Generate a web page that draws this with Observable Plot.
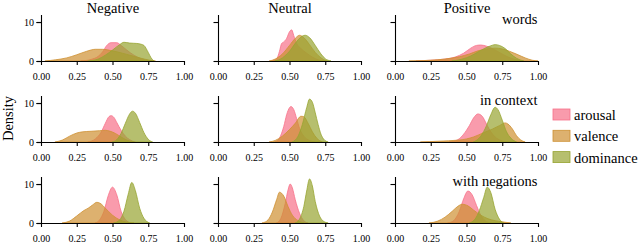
<!DOCTYPE html>
<html><head><meta charset="utf-8">
<script src="https://cdn.jsdelivr.net/npm/d3@7"></script>
<script src="https://cdn.jsdelivr.net/npm/@observablehq/plot@0.6"></script>
<style>
body{margin:0;background:#fff}
#chart{width:640px;height:243px}
#chart svg, #chart svg text{font-family:'Liberation Serif','Times New Roman',serif !important}
</style>
</head><body><div id="chart"></div>
<script>
const sentiments = ["Negative", "Neutral", "Positive"];
const contexts = ["words", "in context", "with negations"];
const dimensions = ["arousal", "valence", "dominance"];
const colors = ["#f77189", "#ce9032", "#97a431"];
const xTicks = [0, 0.25, 0.5, 0.75, 1];
const xTickLabels = ["0.00", "0.25", "0.50", "0.75", "1.00"];
const yTicks = [0, 10];
const yLabel = "Density";

// Density curves: [x, density]
const negWordsArousal = [[0.28,0],[0.35,0.4],[0.40,1.2],[0.43,2.3],[0.46,4.0],[0.49,4.7],[0.53,4.7],[0.56,4.0],[0.60,2.8],[0.65,1.5],[0.70,0.6],[0.76,0]];
const negWordsValence = [[0.03,0],[0.10,0.3],[0.18,0.8],[0.25,1.6],[0.32,2.5],[0.38,3.0],[0.43,3.0],[0.50,2.6],[0.57,2.0],[0.63,1.4],[0.70,0.7],[0.76,0.2],[0.80,0]];
const negWordsDominance = [[0.33,0],[0.40,0.5],[0.45,1.5],[0.50,2.8],[0.55,4.2],[0.58,4.8],[0.62,4.6],[0.67,4.5],[0.70,4.3],[0.72,4.0],[0.75,2.2],[0.77,0.8],[0.79,0]];

const neuWordsArousal = [[0.38,0],[0.41,0.5],[0.43,2.5],[0.445,4.5],[0.46,4.9],[0.48,5.8],[0.50,7.5],[0.515,8.0],[0.53,6.5],[0.55,4.5],[0.58,3.2],[0.62,2.0],[0.66,1.0],[0.70,0.3],[0.74,0]];
const neuWordsValence = [[0.36,0],[0.40,0.5],[0.45,1.8],[0.50,4.0],[0.54,5.8],[0.57,6.6],[0.60,6.0],[0.64,4.2],[0.68,2.2],[0.72,0.8],[0.76,0]];
const neuWordsDominance = [[0.40,0],[0.45,0.8],[0.50,2.5],[0.55,5.0],[0.59,6.4],[0.61,6.6],[0.64,6.0],[0.68,4.0],[0.72,1.8],[0.75,0.6],[0.79,0]];

const posWordsArousal = [[0.15,0],[0.25,0.2],[0.35,0.5],[0.42,1.0],[0.48,2.0],[0.53,3.3],[0.57,4.0],[0.60,4.1],[0.64,3.8],[0.68,3.2],[0.73,2.2],[0.78,1.2],[0.84,0.4],[0.90,0]];
const posWordsValence = [[0.10,0],[0.25,0.2],[0.35,0.5],[0.45,1.1],[0.52,1.8],[0.58,2.6],[0.64,3.1],[0.70,3.3],[0.75,3.1],[0.80,2.5],[0.86,1.6],[0.91,0.8],[0.96,0.2],[1.0,0]];
const posWordsDominance = [[0.40,0],[0.47,0.5],[0.53,1.3],[0.58,2.3],[0.63,3.3],[0.67,3.9],[0.70,4.2],[0.73,4.0],[0.77,3.2],[0.81,1.8],[0.85,0.7],[0.90,0]];

const negContextArousal = [[0.33,0],[0.38,0.8],[0.42,2.5],[0.45,4.8],[0.475,6.5],[0.49,6.75],[0.51,6.3],[0.53,5.0],[0.56,3.0],[0.59,1.5],[0.62,0.6],[0.66,0]];
const negContextValence = [[0.10,0],[0.15,0.5],[0.20,1.5],[0.25,2.3],[0.29,2.6],[0.35,2.75],[0.41,2.9],[0.45,3.0],[0.48,2.8],[0.52,2.2],[0.56,1.3],[0.60,0.5],[0.65,0]];
const negContextDominance = [[0.50,0],[0.53,0.6],[0.56,2.2],[0.59,4.8],[0.62,7.2],[0.64,7.9],[0.66,7.4],[0.69,5.0],[0.72,2.4],[0.75,0.7],[0.78,0]];

const neuContextArousal = [[0.40,0],[0.43,1.0],[0.46,4.0],[0.48,7.0],[0.50,8.8],[0.51,9.1],[0.53,8.3],[0.55,6.0],[0.57,3.5],[0.60,1.5],[0.64,0.4],[0.68,0]];
const neuContextValence = [[0.36,0],[0.40,0.4],[0.45,1.5],[0.50,3.2],[0.54,4.8],[0.58,6.6],[0.60,6.5],[0.63,4.8],[0.66,2.6],[0.69,1.0],[0.73,0]];
const neuContextDominance = [[0.52,0],[0.56,1.5],[0.59,4.5],[0.62,8.8],[0.64,11.0],[0.66,10.2],[0.68,7.5],[0.70,4.5],[0.72,2.0],[0.74,0.7],[0.77,0]];

const posContextArousal = [[0.38,0],[0.44,0.6],[0.48,2.0],[0.52,4.2],[0.55,6.2],[0.58,7.2],[0.61,6.6],[0.64,4.6],[0.67,2.6],[0.70,1.3],[0.74,0.4],[0.78,0]];
const posContextValence = [[0.18,0],[0.30,0.2],[0.45,0.5],[0.55,1.3],[0.62,2.4],[0.68,3.3],[0.73,4.2],[0.77,4.9],[0.79,4.6],[0.82,3.4],[0.85,1.6],[0.88,0.5],[0.91,0]];
const posContextDominance = [[0.55,0],[0.60,1.5],[0.64,4.2],[0.67,7.0],[0.70,8.9],[0.72,8.3],[0.75,5.6],[0.78,2.6],[0.81,1.0],[0.85,0]];

const negNegArousal = [[0.38,0],[0.41,0.8],[0.44,3.0],[0.47,7.0],[0.50,9.2],[0.53,7.2],[0.56,3.0],[0.59,0.9],[0.63,0]];
const negNegValence = [[0.15,0],[0.20,0.5],[0.25,1.8],[0.30,3.2],[0.33,3.8],[0.36,4.6],[0.39,5.3],[0.42,4.9],[0.45,3.8],[0.50,2.0],[0.55,0.8],[0.60,0.2],[0.65,0]];
const negNegDominance = [[0.51,0],[0.55,0.8],[0.58,3.0],[0.61,7.4],[0.635,10.4],[0.66,8.3],[0.69,3.8],[0.72,1.2],[0.76,0]];

const neuNegArousal = [[0.41,0],[0.44,1.2],[0.47,5.0],[0.49,8.5],[0.505,10.0],[0.52,9.0],[0.54,6.0],[0.57,2.5],[0.60,0.6],[0.63,0]];
const neuNegValence = [[0.31,0],[0.35,0.8],[0.38,2.8],[0.41,6.0],[0.43,7.9],[0.46,6.9],[0.49,4.2],[0.52,2.0],[0.56,0.6],[0.60,0]];
const neuNegDominance = [[0.54,0],[0.57,1.0],[0.60,4.2],[0.62,8.2],[0.64,11.3],[0.66,9.5],[0.68,5.5],[0.71,1.8],[0.74,0.4],[0.77,0]];

const posNegArousal = [[0.37,0],[0.41,0.6],[0.45,3.0],[0.48,6.2],[0.51,8.2],[0.54,7.2],[0.57,4.5],[0.60,2.0],[0.63,0.6],[0.67,0]];
const posNegValence = [[0.24,0],[0.30,0.5],[0.35,1.5],[0.40,3.0],[0.44,4.3],[0.47,4.8],[0.51,4.4],[0.55,3.3],[0.60,2.0],[0.65,1.1],[0.70,0.6],[0.75,0.3],[0.81,0]];
const posNegDominance = [[0.52,0],[0.56,1.0],[0.59,3.2],[0.62,6.5],[0.645,9.2],[0.67,7.8],[0.70,3.5],[0.73,1.0],[0.76,0]];

const curves = [
  ["Negative","words",[negWordsArousal,negWordsValence,negWordsDominance]],
  ["Neutral","words",[neuWordsArousal,neuWordsValence,neuWordsDominance]],
  ["Positive","words",[posWordsArousal,posWordsValence,posWordsDominance]],
  ["Negative","in context",[negContextArousal,negContextValence,negContextDominance]],
  ["Neutral","in context",[neuContextArousal,neuContextValence,neuContextDominance]],
  ["Positive","in context",[posContextArousal,posContextValence,posContextDominance]],
  ["Negative","with negations",[negNegArousal,negNegValence,negNegDominance]],
  ["Neutral","with negations",[neuNegArousal,neuNegValence,neuNegDominance]],
  ["Positive","with negations",[posNegArousal,posNegValence,posNegDominance]]
];

const rows = [];
for (const [s, c, series] of curves) {
  series.forEach((pts, i) => {
    for (const [x, y] of pts) rows.push({sentiment: s, context: c, dimension: dimensions[i], x, y});
  });
}

const font = "'Liberation Serif', 'Times New Roman', serif";
const plot = Plot.plot({
  width: 640, height: 243,
  marginLeft: 40, marginRight: 101, marginTop: 15, marginBottom: 19,
  style: {fontFamily: font, fontSize: "10px", background: "white", color: "black"},
  x: {domain: [0, 1]},
  y: {domain: [0, 11.8]},
  fx: {domain: sentiments, paddingInner: 0.19, paddingOuter: 0, axis: null},
  fy: {domain: contexts, paddingInner: 0.428, paddingOuter: 0, axis: null},
  color: {domain: dimensions, range: colors},
  marks: [
    Plot.areaY(rows, {x: "x", y1: 0, y2: "y", z: "dimension", fill: "dimension", fillOpacity: 0.7,
      stroke: "dimension", strokeWidth: 0.8, fx: "sentiment", fy: "context", curve: "monotone-x"}),
    Plot.ruleY([0], {stroke: "black", strokeWidth: 1.1}),
    Plot.ruleX([0], {stroke: "black", strokeWidth: 1.1}),
    Plot.axisX({ticks: xTicks, tickFormat: (d) => xTickLabels[xTicks.indexOf(d)], tickSize: 4, tickPadding: 7,
      facetAnchor: null, label: null, strokeWidth: 1.1, fontFamily: font}),
    Plot.axisY({ticks: yTicks, tickSize: 4.5, tickPadding: 3, facetAnchor: "left", label: null, strokeWidth: 1.1, fontFamily: font}),
    Plot.axisY({ticks: yTicks, tickSize: 4.5, text: null, facetAnchor: null, label: null, strokeWidth: 1.1}),
    Plot.text(sentiments, {fx: (d) => d, fy: () => contexts[0], text: (d) => d, frameAnchor: "top",
      lineAnchor: "bottom", dy: -3, fontSize: 14.5, fontFamily: font}),
    Plot.text(contexts, {fy: (d) => d, fx: () => sentiments[2], text: (d) => d, frameAnchor: "top-right",
      textAnchor: "end", lineAnchor: "bottom", dy: 8, dx: -1, fontSize: 14.5, fontFamily: font})
  ]
});
document.getElementById("chart").appendChild(plot);

// Legend and y label
const svg = d3.select(plot);
const lg = svg.append("g").attr("font-family", font).attr("font-size", 14.5).attr("text-anchor", "start");
dimensions.forEach((d, i) => {
  const y0 = 109 + i * 21.3;
  lg.append("rect").attr("x", 553).attr("y", y0).attr("width", 17).attr("height", 11)
    .attr("fill", colors[i]).attr("fill-opacity", 0.7).attr("stroke", colors[i]).attr("stroke-width", 0.8);
  lg.append("text").attr("x", 574).attr("y", y0 + 11).attr("text-anchor", "start").attr("fill", "black").text(d);
});
svg.append("text").attr("font-family", font).attr("font-size", 14.5).attr("fill", "black")
  .attr("text-anchor", "middle").attr("transform", "translate(13,118.5) rotate(-90)").text(yLabel);
</script>
</body></html>
